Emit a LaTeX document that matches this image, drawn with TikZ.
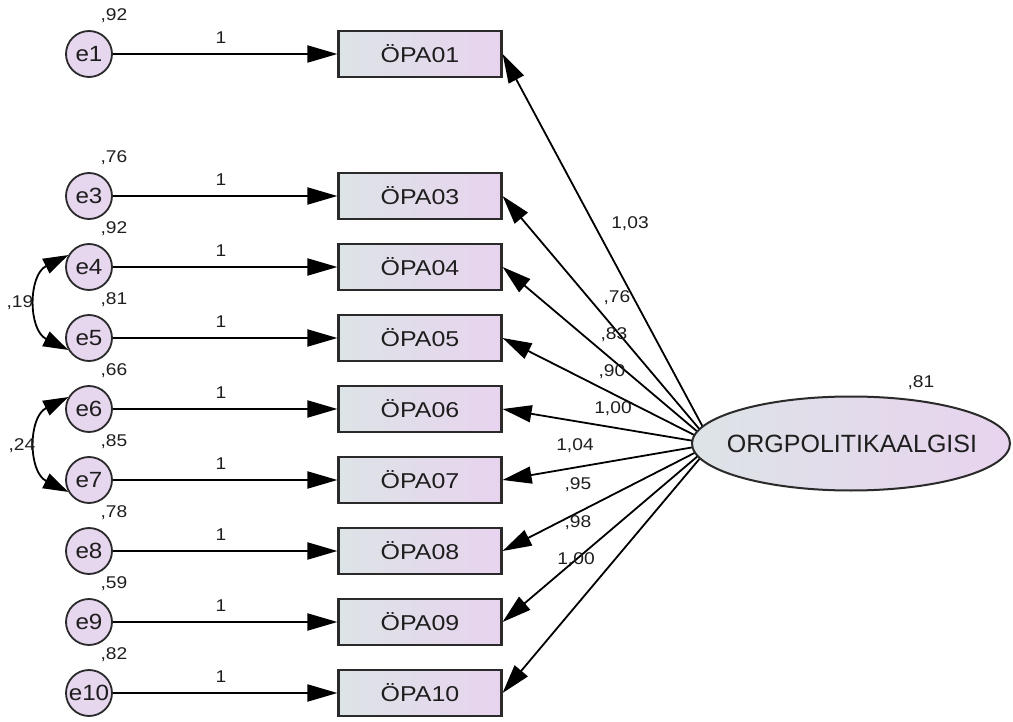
\documentclass[tikz,border=0pt]{standalone}
\usepackage{fontspec}
\setmainfont{Liberation Sans}
\newfontfamily\numfont[FakeStretch=1.13]{Liberation Sans}
\newfontfamily\boxfont[FakeStretch=1.16]{Liberation Sans}
\newfontfamily\errfont[FakeStretch=1.1]{Liberation Sans}
\usetikzlibrary{arrows.meta,shapes.geometric,backgrounds}

\definecolor{fillL}{HTML}{DDE4E7}
\definecolor{fillR}{HTML}{E8D3EE}
\definecolor{errfill}{HTML}{E6D6EE}
\definecolor{ink}{HTML}{1E1E1E}
\definecolor{edge}{HTML}{2A2A2A}

\begin{document}
\begin{tikzpicture}[x=1pt,y=-1pt,
  obs/.style={draw=edge,line width=2.2pt,minimum width=163pt,minimum height=46pt,
    inner sep=0pt,left color=fillL,right color=fillR,text=ink,
    font=\boxfont\fontsize{21.5}{21.5}\selectfont},
  err/.style={circle,draw=edge,line width=1.8pt,minimum size=46pt,inner sep=0pt,
    fill=errfill,text=ink,font=\errfont\fontsize{22}{22}\selectfont},
  latent/.style={ellipse,draw=edge,line width=2pt,minimum width=318pt,minimum height=94pt,
    inner sep=0pt,left color=fillL,right color=fillR},
  num/.style={inner sep=0pt,text=ink,font=\numfont\fontsize{17}{17}\selectfont},
  reg/.style={line width=2pt,-{Triangle[length=30pt,width=17pt]}},
  load/.style={line width=1.8pt,-{Triangle[length=29pt,width=17pt]}},
  cov/.style={line width=1.8pt,{Triangle[length=25pt,width=16pt]}-{Triangle[length=25pt,width=16pt]}}
]
\useasboundingbox (0,0) rectangle (1013,722);

% error terms, indicators and unit paths
\foreach \e/\o/\y/\v in {1/01/54/92, 3/03/196/76, 4/04/267/92, 5/05/338/81,
                         6/06/409/66, 7/07/480/85, 8/08/551/78, 9/09/622/59, 10/10/693/82}{
  \node[err] (e\e) at (89,\y) {e\e};
  \node[obs] (o\o) at (420,\y) {ÖPA\o};
  \node[num] (v\e) at (114,\y-38) {,\v};
  \node[num] (w\e) at (221,\y-16) {1};
  \draw[reg] (e\e) -- (o\o);
}

% latent factor
\node[latent] (F) at (851,443.5) {};
\node[text=ink,inner sep=0pt,font=\fontsize{25}{25}\selectfont] (Ftext) at (852,444) {ORGPOLITIKAALGISI};
\node[num] (Fvar) at (921,383) {,81};
\coordinate (P) at (712,444);

% factor loadings, drawn behind the ellipse
\begin{scope}[on background layer]
  \foreach \o in {01,03,04,05,06,07,08,09,10}
    \draw[load] (P) -- (o\o.east);
\end{scope}

\node[num] (l01) at (630,224) {1,03};
\node[num] (l03) at (617,298) {,76};
\node[num] (l04) at (614,335) {,83};
\node[num] (l05) at (612,372) {,90};
\node[num] (l06) at (613,409) {1,00};
\node[num] (l07) at (575,446) {1,04};
\node[num] (l08) at (578,485) {,95};
\node[num] (l09) at (578,523) {,98};
\node[num] (l10) at (576,560) {1,00};

% correlated errors
\draw[cov] (e4.150) .. controls (28,275) and (28,330) .. (e5.210);
\node[num] (c45) at (20,303) {,19};
\draw[cov] (e6.150) .. controls (28,417) and (28,472) .. (e7.210);
\node[num] (c67) at (22,446) {,24};
\end{tikzpicture}
\end{document}
